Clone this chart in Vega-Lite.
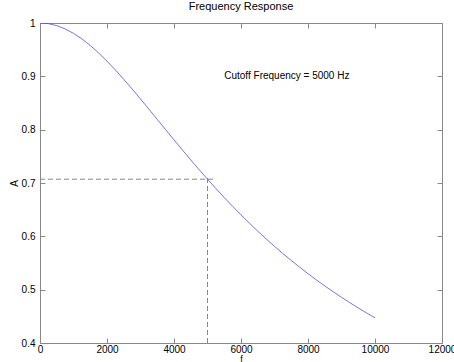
{
  "$schema": "https://vega.github.io/schema/vega-lite/v6.json",
  "width": 402,
  "height": 320,
  "autosize": {"type": "none"},
  "padding": {"left": 40, "top": 23, "right": 12, "bottom": 19},
  "background": "white",
  "config": {
    "view": {"stroke": null},
    "font": "Liberation Sans",
    "axis": {
      "grid": false,
      "domainColor": "#888888",
      "tickColor": "#888888",
      "tickSize": -5,
      "labelColor": "black",
      "labelFontSize": 10,
      "labelFont": "Liberation Sans",
      "titleFont": "Liberation Sans",
      "titleFontSize": 10,
      "titleFontWeight": "normal",
      "titleColor": "black"
    }
  },
  "title": {
    "text": "Frequency Response",
    "fontSize": 11,
    "fontWeight": "normal",
    "font": "Liberation Sans",
    "offset": 6,
    "anchor": "middle"
  },
  "datasets": {
    "curve": [
      {"f": 0, "A": 1},
      {"f": 250, "A": 0.99875},
      {"f": 500, "A": 0.99504},
      {"f": 750, "A": 0.98894},
      {"f": 1000, "A": 0.98058},
      {"f": 1250, "A": 0.97014},
      {"f": 1500, "A": 0.95783},
      {"f": 1750, "A": 0.94386},
      {"f": 2000, "A": 0.92848},
      {"f": 2250, "A": 0.91192},
      {"f": 2500, "A": 0.89443},
      {"f": 2750, "A": 0.87621},
      {"f": 3000, "A": 0.85749},
      {"f": 3250, "A": 0.83844},
      {"f": 3500, "A": 0.81923},
      {"f": 3750, "A": 0.8},
      {"f": 4000, "A": 0.78087},
      {"f": 4250, "A": 0.76194},
      {"f": 4500, "A": 0.74329},
      {"f": 4750, "A": 0.725},
      {"f": 5000, "A": 0.70711},
      {"f": 5250, "A": 0.68966},
      {"f": 5500, "A": 0.67267},
      {"f": 5750, "A": 0.65617},
      {"f": 6000, "A": 0.64018},
      {"f": 6250, "A": 0.6247},
      {"f": 6500, "A": 0.60971},
      {"f": 6750, "A": 0.59523},
      {"f": 7000, "A": 0.58124},
      {"f": 7250, "A": 0.56773},
      {"f": 7500, "A": 0.5547},
      {"f": 7750, "A": 0.54212},
      {"f": 8000, "A": 0.53},
      {"f": 8250, "A": 0.5183},
      {"f": 8500, "A": 0.50702},
      {"f": 8750, "A": 0.49614},
      {"f": 9000, "A": 0.48564},
      {"f": 9250, "A": 0.47552},
      {"f": 9500, "A": 0.46575},
      {"f": 9750, "A": 0.45632},
      {"f": 10000, "A": 0.44721}
    ],
    "guides": [
      {"f": 0, "f2": 5200, "A": 0.70711, "A2": 0.70711},
      {"f": 5000, "f2": 5000, "A": 0.4, "A2": 0.713}
    ],
    "label": [
      {"f": 5500, "A": 0.9, "text": "Cutoff Frequency = 5000 Hz"}
    ]
  },
  "layer": [
    {
      "data": {"name": "curve"},
      "mark": {"type": "line", "color": "#5252d8", "strokeWidth": 0.8, "clip": true},
      "encoding": {
        "x": {
          "field": "f", "type": "quantitative",
          "scale": {"domain": [0, 12000], "nice": false, "zero": false},
          "axis": {"orient": "bottom", "values": [0, 2000, 4000, 6000, 8000, 10000, 12000], "format": "d", "title": "f", "titlePadding": 0, "titleFontSize": 9, "labelPadding": 6, "labelFlush": false}
        },
        "y": {
          "field": "A", "type": "quantitative",
          "scale": {"domain": [0.4, 1], "nice": false, "zero": false},
          "axis": {"orient": "left", "values": [0.4, 0.5, 0.6, 0.7, 0.8, 0.9, 1], "format": ".1~f", "title": "A", "titlePadding": 2, "labelPadding": 10}
        }
      }
    },
    {
      "data": {"name": "guides"},
      "mark": {"type": "rule", "color": "#888888", "strokeWidth": 1, "strokeDash": [5, 3]},
      "encoding": {
        "x": {"field": "f", "type": "quantitative", "axis": {"orient": "top", "values": [0, 2000, 4000, 6000, 8000, 10000, 12000], "labels": false, "title": null}},
        "x2": {"field": "f2"},
        "y": {"field": "A", "type": "quantitative", "axis": {"orient": "right", "values": [0.4, 0.5, 0.6, 0.7, 0.8, 0.9, 1], "labels": false, "title": null}},
        "y2": {"field": "A2"}
      }
    },
    {
      "data": {"name": "label"},
      "mark": {"type": "text", "align": "left", "baseline": "middle", "fontSize": 10, "font": "Liberation Sans", "color": "black"},
      "encoding": {
        "x": {"field": "f", "type": "quantitative", "axis": null},
        "y": {"field": "A", "type": "quantitative", "axis": null},
        "text": {"field": "text"}
      }
    }
  ],
  "resolve": {"axis": {"x": "independent", "y": "independent"}}
}
